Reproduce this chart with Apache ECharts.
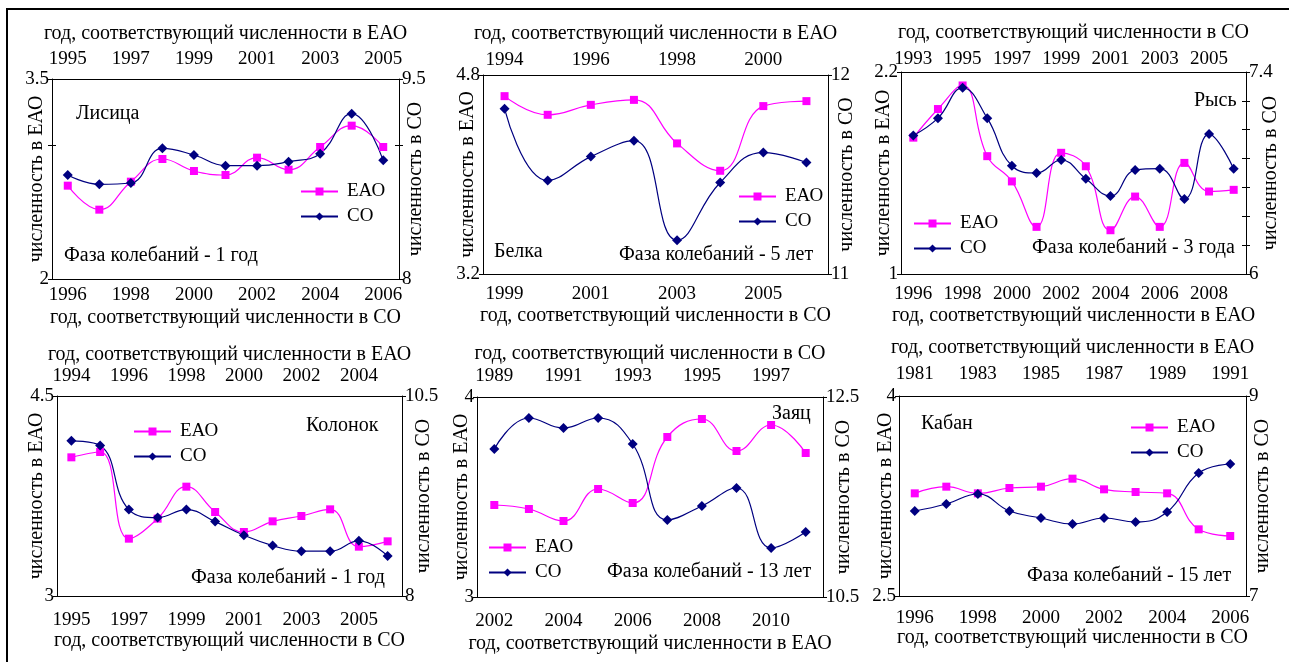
<!DOCTYPE html>
<html>
<head>
<meta charset="utf-8">
<script src="https://cdn.jsdelivr.net/npm/echarts@6/dist/echarts.min.js"></script>
<style>
html, body { margin: 0; padding: 0; background: #fff; }
#main { width: 1289px; height: 662px; }
</style>
</head>
<body>
<div id="main"></div>
<script>
// Лисица
var foxYearsCO = ['1996', '1997', '1998', '1999', '2000', '2001', '2002', '2003', '2004', '2005', '2006'];
var foxYearsEAO = ['1995', '1996', '1997', '1998', '1999', '2000', '2001', '2002', '2003', '2004', '2005'];
var foxEAO = [2.70, 2.52, 2.73, 2.90, 2.81, 2.78, 2.91, 2.82, 2.99, 3.15, 2.99];
var foxCO = [8.78, 8.71, 8.72, 8.98, 8.93, 8.85, 8.85, 8.88, 8.94, 9.24, 8.89];

// Белка
var squirrelYearsCO = ['1999', '2000', '2001', '2002', '2003', '2004', '2005', '2006'];
var squirrelYearsEAO = ['1994', '1995', '1996', '1997', '1998', '1999', '2000', '2001'];
var squirrelEAO = [4.63, 4.48, 4.56, 4.60, 4.25, 4.03, 4.55, 4.59];
var squirrelCO = [11.83, 11.47, 11.59, 11.67, 11.17, 11.46, 11.61, 11.56];

// Рысь
var lynxYearsEAO = ['1996', '1997', '1998', '1999', '2000', '2001', '2002', '2003', '2004', '2005', '2006', '2007', '2008', '2009'];
var lynxYearsCO = ['1993', '1994', '1995', '1996', '1997', '1998', '1999', '2000', '2001', '2002', '2003', '2004', '2005', '2006'];
var lynxEAO = [1.81, 1.98, 2.12, 1.70, 1.55, 1.28, 1.72, 1.64, 1.26, 1.46, 1.28, 1.66, 1.49, 1.50];
var lynxCO = [6.96, 7.08, 7.29, 7.08, 6.75, 6.70, 6.79, 6.66, 6.54, 6.72, 6.73, 6.52, 6.97, 6.73];

// Колонок
var weaselYearsCO = ['1995', '1996', '1997', '1998', '1999', '2000', '2001', '2002', '2003', '2004', '2005', '2006'];
var weaselYearsEAO = ['1994', '1995', '1996', '1997', '1998', '1999', '2000', '2001', '2002', '2003', '2004', '2005'];
var weaselEAO = [4.04, 4.08, 3.43, 3.58, 3.82, 3.63, 3.48, 3.56, 3.60, 3.65, 3.37, 3.41];
var weaselCO = [9.94, 9.88, 9.08, 8.98, 9.08, 8.93, 8.76, 8.63, 8.56, 8.56, 8.69, 8.50];

// Заяц
var hareYearsEAO = ['2002', '2003', '2004', '2005', '2006', '2007', '2008', '2009', '2010', '2011'];
var hareYearsCO = ['1989', '1990', '1991', '1992', '1993', '1994', '1995', '1996', '1997', '1998'];
var hareEAO = [3.46, 3.44, 3.38, 3.54, 3.47, 3.80, 3.89, 3.73, 3.86, 3.72];
var hareCO = [11.98, 12.29, 12.19, 12.29, 12.03, 11.27, 11.41, 11.59, 10.99, 11.15];

// Кабан
var boarYearsCO = ['1996', '1997', '1998', '1999', '2000', '2001', '2002', '2003', '2004', '2005', '2006'];
var boarYearsEAO = ['1981', '1982', '1983', '1984', '1985', '1986', '1987', '1988', '1989', '1990', '1991'];
var boarEAO = [3.27, 3.32, 3.27, 3.31, 3.32, 3.38, 3.30, 3.28, 3.27, 3.00, 2.95];
var boarCO = [7.85, 7.92, 8.02, 7.85, 7.78, 7.72, 7.78, 7.74, 7.84, 8.23, 8.32];

var NAME_EAO = 'год, соответствующий численности в ЕАО';
var NAME_CO = 'год, соответствующий численности в СО';

var panels = [
    {label: 'Лисица', phase: 'Фаза колебаний - 1 год', bottom: foxYearsCO, top: foxYearsEAO,
     bottomName: NAME_CO, topName: NAME_EAO, eao: foxEAO, co: foxCO, yl: [2, 3.5, 1], yr: [8, 9.5, 1]},
    {label: 'Белка', phase: 'Фаза колебаний - 5 лет', bottom: squirrelYearsCO, top: squirrelYearsEAO,
     bottomName: NAME_CO, topName: NAME_EAO, eao: squirrelEAO, co: squirrelCO, yl: [3.2, 4.8, 1.6], yr: [11, 12, 1]},
    {label: 'Рысь', phase: 'Фаза колебаний - 3 года', bottom: lynxYearsEAO, top: lynxYearsCO,
     bottomName: NAME_EAO, topName: NAME_CO, eao: lynxEAO, co: lynxCO, yl: [1, 2.2, 1.2], yr: [6, 7.4, 0.2]},
    {label: 'Колонок', phase: 'Фаза колебаний - 1 год', bottom: weaselYearsCO, top: weaselYearsEAO,
     bottomName: NAME_CO, topName: NAME_EAO, eao: weaselEAO, co: weaselCO, yl: [3, 4.5, 1.5], yr: [8, 10.5, 2.5]},
    {label: 'Заяц', phase: 'Фаза колебаний - 13 лет', bottom: hareYearsEAO, top: hareYearsCO,
     bottomName: NAME_EAO, topName: NAME_CO, eao: hareEAO, co: hareCO, yl: [3, 4, 1], yr: [10.5, 12.5, 2]},
    {label: 'Кабан', phase: 'Фаза колебаний - 15 лет', bottom: boarYearsCO, top: boarYearsEAO,
     bottomName: NAME_CO, topName: NAME_EAO, eao: boarEAO, co: boarCO, yl: [2.5, 4, 1.5], yr: [7, 9, 2]}
];

// позиции панелей на картинке
var layouts = [
    {grid: [52, 79, 347, 200], botMargin: 7, topMargin: 10, botGap: 29, topGap: 35, yGap: [5, 7],
     labelPos: [76, 104], phasePos: [64, 246], legendPos: [300, 182]},
    {grid: [483, 75, 345, 199], botMargin: 11, topMargin: 5, botGap: 32, topGap: 31, yGap: [5, 9],
     labelPos: [494, 242], phasePos: [619, 245], legendPos: [738, 187]},
    {grid: [901, 72, 345, 202], botMargin: 11, topMargin: 3, botGap: 32, topGap: 29, yGap: [7, 15],
     labelPos: [1194, 91], phasePos: [1032, 238], legendPos: [913, 214]},
    {grid: [57, 396, 345, 200], botMargin: 15, topMargin: 10, botGap: 35, topGap: 31, yGap: [10, 12],
     labelPos: [306, 416], phasePos: [191, 568], legendPos: [133, 422]},
    {grid: [477, 397, 346, 200], botMargin: 15, topMargin: 11, botGap: 37, topGap: 33, yGap: [5, 11],
     labelPos: [772, 404], phasePos: [607, 562], legendPos: [488, 538]},
    {grid: [899, 396, 347, 200], botMargin: 13, topMargin: 12, botGap: 32, topGap: 38, yGap: [3, 7],
     labelPos: [921, 414], phasePos: [1027, 566], legendPos: [1130, 418]}
];

var FONT = '"Liberation Serif", "Times New Roman", serif';
var tick = {fontFamily: FONT, fontSize: 19, color: '#000', fontWeight: 'normal'};
var txt = {fontFamily: FONT, fontSize: 20, color: '#000', fontWeight: 'normal'};
var black = {color: '#000', width: 1};

function endsOnly(min, max) {
    return function (v) {
        if (Math.abs(v - min) < 1e-6 || Math.abs(v - max) < 1e-6) {
            return String(Math.round(v * 100) / 100);
        }
        return '';
    };
}

var option = {
    animation: false,
    textStyle: {fontFamily: FONT},
    grid: [], xAxis: [], yAxis: [], series: [], legend: [], title: [],
    graphic: [{
        type: 'polyline',
        shape: {points: [[7, 662], [7, 9], [1289, 9]]},
        style: {stroke: '#000', lineWidth: 2, fill: null}
    }]
};

panels.forEach(function (p, i) {
    var lay = layouts[i];
    option.grid.push({left: lay.grid[0], top: lay.grid[1], width: lay.grid[2], height: lay.grid[3]});

    // оси X: снаружи с подписями + внутренние засечки
    [['bottom', p.bottom, p.bottomName, lay.botMargin, lay.botGap],
     ['top', p.top, p.topName, lay.topMargin, lay.topGap]].forEach(function (a) {
        option.xAxis.push({
            type: 'category', gridIndex: i, position: a[0], data: a[1], boundaryGap: true,
            axisLine: {lineStyle: black},
            axisTick: {length: 4, interval: 0, lineStyle: black},
            axisLabel: Object.assign({interval: 1, margin: a[3]}, tick),
            splitLine: {show: false},
            name: a[2], nameLocation: 'middle', nameGap: a[4], nameMoveOverlap: false,
            nameTextStyle: txt
        });
        option.xAxis.push({
            type: 'category', gridIndex: i, position: a[0], data: a[1], boundaryGap: true,
            axisLine: {show: false},
            axisTick: {inside: true, length: 4, interval: 0, lineStyle: black},
            axisLabel: {show: false}, splitLine: {show: false}
        });
    });

    // оси Y: левая ЕАО, правая СО
    [['left', p.yl, 'численность в ЕАО', lay.yGap[0]],
     ['right', p.yr, 'численность в СО', lay.yGap[1]]].forEach(function (a) {
        var r = a[1];
        option.yAxis.push({
            type: 'value', gridIndex: i, position: a[0], min: r[0], max: r[1], interval: r[2],
            axisLine: {show: true, lineStyle: black},
            axisTick: {show: true, length: 4, lineStyle: black},
            axisLabel: Object.assign({margin: 3, formatter: endsOnly(r[0], r[1])}, tick),
            splitLine: {show: false},
            name: a[2], nameLocation: 'middle', nameRotate: 90, nameGap: a[3], nameMoveOverlap: false,
            nameTextStyle: txt
        });
        option.yAxis.push({
            type: 'value', gridIndex: i, position: a[0], min: r[0], max: r[1], interval: r[2],
            axisLine: {show: false},
            axisTick: {show: true, inside: true, length: 4, lineStyle: black},
            axisLabel: {show: false}, splitLine: {show: false}
        });
    });

    option.series.push({
        type: 'line', name: 'ЕАО', xAxisIndex: 4 * i, yAxisIndex: 4 * i, data: p.eao,
        smooth: 0.45, symbol: 'rect', symbolSize: 8,
        itemStyle: {color: '#ff00ff'}, lineStyle: {color: '#ff00ff', width: 1.2}
    });
    option.series.push({
        type: 'line', name: 'СО', xAxisIndex: 4 * i, yAxisIndex: 4 * i + 2, data: p.co,
        smooth: 0.45, symbol: 'diamond', symbolSize: 10,
        itemStyle: {color: '#000080'}, lineStyle: {color: '#000080', width: 1.2}
    });

    option.legend.push({
        orient: 'vertical', left: lay.legendPos[0], top: lay.legendPos[1], padding: 0,
        itemWidth: 37, itemHeight: 10, itemGap: 6, selectedMode: false,
        data: ['ЕАО', 'СО'], textStyle: Object.assign({padding: [0, 0, 0, 4]}, tick)
    });
    option.title.push({text: p.label, left: lay.labelPos[0], top: lay.labelPos[1], padding: 0, textStyle: txt});
    option.title.push({text: p.phase, left: lay.phasePos[0], top: lay.phasePos[1], padding: 0, textStyle: txt});
});

var chart = echarts.init(document.getElementById('main'));
chart.setOption(option);
window.addEventListener('resize', chart.resize);
</script>
</body>
</html>
